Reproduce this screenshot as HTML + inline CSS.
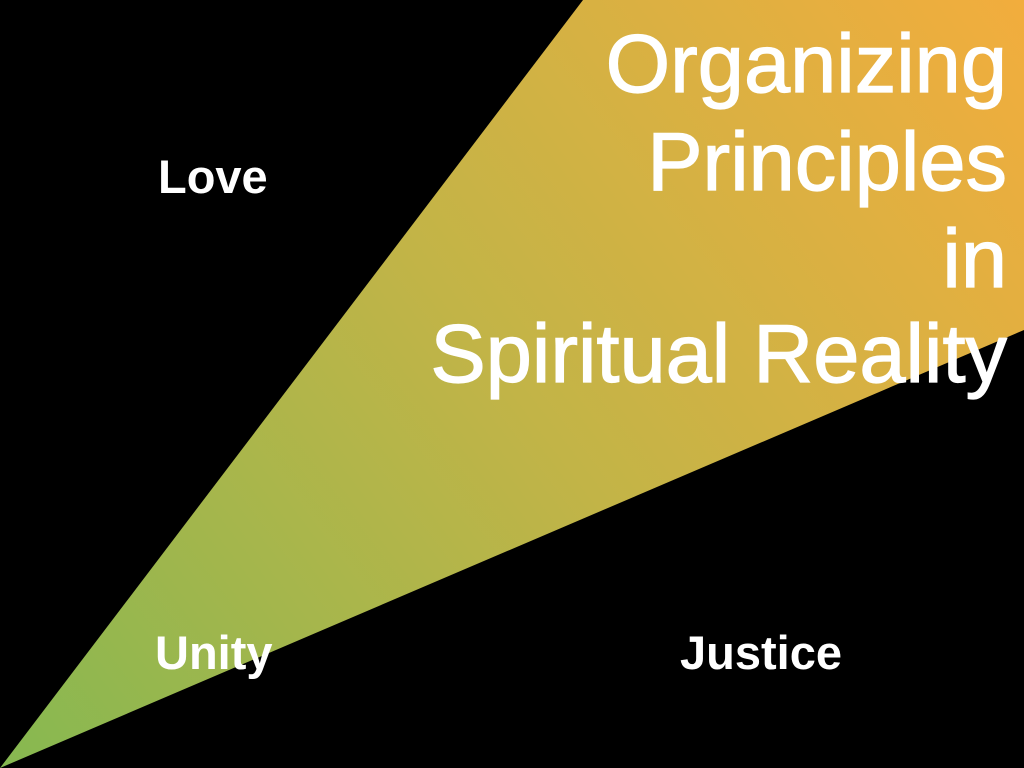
<!DOCTYPE html>
<html><head><meta charset="utf-8"><style>
html,body{margin:0;padding:0;background:#000;}
svg{display:block}
</style></head><body>
<svg width="1024" height="768" viewBox="0 0 1024 768" xmlns="http://www.w3.org/2000/svg">
<defs>
<linearGradient id="g" x1="0" y1="768" x2="1024" y2="0" gradientUnits="userSpaceOnUse">
<stop offset="0" stop-color="#86b851"/>
<stop offset="0.5" stop-color="#c2b447"/>
<stop offset="1" stop-color="#f2ad3d"/>
</linearGradient>
</defs>
<rect width="1024" height="768" fill="#000"/>
<polygon points="0,768 583,0 1024,0 1024,330" fill="url(#g)"/>
<g font-family="Liberation Sans, sans-serif" fill="#fff">
<g font-size="83" text-anchor="end" stroke="#fff" stroke-width="1.2">
<text x="1007" y="92">Organizing</text>
<text x="1007" y="190">Principles</text>
<text x="1007" y="287">in</text>
<text x="1007" y="382">Spiritual Reality</text>
</g>
<g font-size="47" font-weight="bold">
<text x="158" y="193">Love</text>
<text x="155" y="669">Unity</text>
<text x="680" y="669">Justice</text>
</g>
</g>
</svg>
</body></html>
